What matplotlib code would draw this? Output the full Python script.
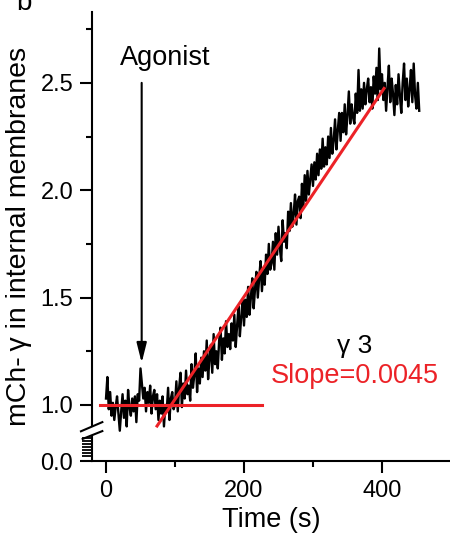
import numpy as np
import matplotlib
matplotlib.use("Agg")
import matplotlib.pyplot as plt

plt.rcParams['font.family'] = ['Liberation Sans', 'DejaVu Sans']

# ---- data ----
time_s = np.arange(0, 456, 2)
signal = [
    1.03, 1.13, 0.98, 1.06, 0.95, 1.01, 0.93, 0.99, 1.04, 0.96,
    0.88, 0.97, 1.05, 0.94, 1.02, 0.90, 1.07, 0.99, 0.95, 1.03,
    0.97, 1.04, 0.92, 1.05, 1.02, 1.17, 1.10, 1.03, 1.08, 0.97,
    1.06, 1.01, 1.09, 0.96, 1.04, 1.07, 0.98, 1.05, 0.93, 1.02,
    0.96, 1.04, 0.90, 1.00, 0.97, 1.08, 0.93, 1.03, 1.06, 0.98,
    1.00, 1.11, 0.97, 1.08, 1.15, 0.99, 1.10, 1.03, 1.16, 1.05,
    1.09, 1.02, 1.19, 1.08, 1.14, 1.24, 1.06, 1.17, 1.10, 1.22,
    1.13, 1.25, 1.16, 1.30, 1.12, 1.22, 1.28, 1.15, 1.33, 1.19,
    1.25, 1.17, 1.30, 1.36, 1.21, 1.31, 1.24, 1.39, 1.27, 1.33,
    1.26, 1.38, 1.30, 1.42, 1.27, 1.37, 1.46, 1.32, 1.41, 1.49,
    1.37, 1.49, 1.41, 1.55, 1.42, 1.50, 1.59, 1.45, 1.54, 1.62,
    1.50, 1.59, 1.67, 1.53, 1.63, 1.56, 1.70, 1.61, 1.75, 1.63,
    1.66, 1.76, 1.63, 1.80, 1.70, 1.83, 1.73, 1.67, 1.86, 1.76,
    1.80, 1.73, 1.90, 1.81, 1.94, 1.83, 1.89, 1.98, 1.84, 1.95,
    1.97, 1.87, 2.03, 1.92, 2.07, 1.95, 2.09, 1.98, 2.05, 2.12,
    2.02, 2.13, 2.05, 2.17, 2.07, 2.19, 2.10, 2.24, 2.11, 2.20,
    2.12, 2.25, 2.15, 2.29, 2.17, 2.23, 2.33, 2.19, 2.28, 2.36,
    2.23, 2.36, 2.27, 2.40, 2.26, 2.35, 2.46, 2.31, 2.40, 2.34,
    2.31, 2.45, 2.36, 2.56, 2.37, 2.47, 2.38, 2.50, 2.40, 2.47,
    2.52, 2.41, 2.48, 2.38, 2.53, 2.45, 2.57, 2.42, 2.66, 2.47,
    2.54, 2.42, 2.50, 2.37, 2.48, 2.58, 2.41, 2.52, 2.45, 2.35,
    2.49, 2.40, 2.54, 2.44, 2.36, 2.50, 2.59, 2.42, 2.52, 2.39,
    2.47, 2.56, 2.41, 2.59, 2.44, 2.38, 2.50, 2.37,
]
baseline_x = [-9, 226]
baseline_y = [1.0, 1.0]
fit_x = [74, 403]
fit_y = [0.902, 2.474]
agonist_time = 51.7
slope_label = "Slope=0.0045"
isoform_label = "\u03b3 3"
y_ticks = [1.0, 1.5, 2.0, 2.5]
y_tick_labels = ["1.0", "1.5", "2.0", "2.5"]
y_minor = [1.25, 1.75, 2.25, 2.75]
x_ticks = [0, 200, 400]
x_minor = [100, 300]

RED = '#ec2227'
W, H = 450, 533
fig = plt.figure(figsize=(W / 100, H / 100), dpi=100)
ax = fig.add_axes([92 / W, (533 - 461) / H, 1 - 92 / W, (461 - 12) / H])

ax.plot(time_s, signal, color='black', lw=1.7, zorder=3)
ax.plot(baseline_x, baseline_y, color=RED, lw=2.2, zorder=4)
ax.plot(fit_x, fit_y, color=RED, lw=2.2, zorder=4)

ybot = 0.739
ax.set_xlim(-20.3, 498.6)
ax.set_ylim(ybot, 2.830)

ax.set_xticks(x_ticks)
ax.set_xticks(x_minor, minor=True)
ax.set_yticks([ybot] + y_ticks)
ax.set_yticklabels(["0.0"] + y_tick_labels)
ax.set_yticks(y_minor, minor=True)

for s in ['top', 'right']:
    ax.spines[s].set_visible(False)
ax.spines['left'].set_visible(False)
ax.spines['bottom'].set_linewidth(1.5)

ax.tick_params(axis='both', which='major', direction='out', length=8.5, width=1.5,
               labelsize=17, pad=5)
ax.tick_params(axis='both', which='minor', direction='out', length=4.3, width=1.5)

# left spine with break
y_to_ax = lambda py: (461 - py) / 449
x_to_ax = lambda px: (px - 92) / 358
ax.plot([0, 0], [y_to_ax(425), 1.0], color='black', lw=1.5, transform=ax.transAxes, clip_on=False)
ax.plot([0, 0], [0, y_to_ax(436)], color='black', lw=1.5, transform=ax.transAxes, clip_on=False)
for (x0, y0, x1, y1) in [(80, 431.7, 103.3, 421.7), (81.7, 439.3, 103.3, 430.7)]:
    ax.plot([x_to_ax(x0), x_to_ax(x1)], [y_to_ax(y0), y_to_ax(y1)], color='black', lw=1.5,
            transform=ax.transAxes, clip_on=False, solid_capstyle='butt')
# dense ticks on the lower (0.0) segment
for py in np.arange(438, 459, 3):
    ax.plot([x_to_ax(82), 0], [y_to_ax(py), y_to_ax(py)], color='black', lw=1.3,
            transform=ax.transAxes, clip_on=False, solid_capstyle='butt')

ax.set_xlabel("Time (s)", fontsize=19.5, labelpad=4)
ax.set_ylabel("mCh-\u2009\u03b3 in internal membranes", fontsize=20.5, labelpad=6)

# agonist arrow
ax.annotate("", xy=(agonist_time, 1.196), xytext=(agonist_time, 2.50),
            arrowprops=dict(arrowstyle='-|>,head_length=1.2,head_width=0.3', color='black', lw=1.5,
                            shrinkA=0, shrinkB=0))
ax.text(85.5, 2.616, "Agonist", fontsize=19.5, ha='center', va='center')

ax.text(361, 1.242, isoform_label, fontsize=19, ha='center', va='baseline')
ax.text(361, 1.102, slope_label, fontsize=19.5, ha='center', va='baseline', color=RED)

fig.text(0.035, 0.981, "b", fontsize=20, ha='left', va='baseline')

fig.savefig("out.png", dpi=100)
